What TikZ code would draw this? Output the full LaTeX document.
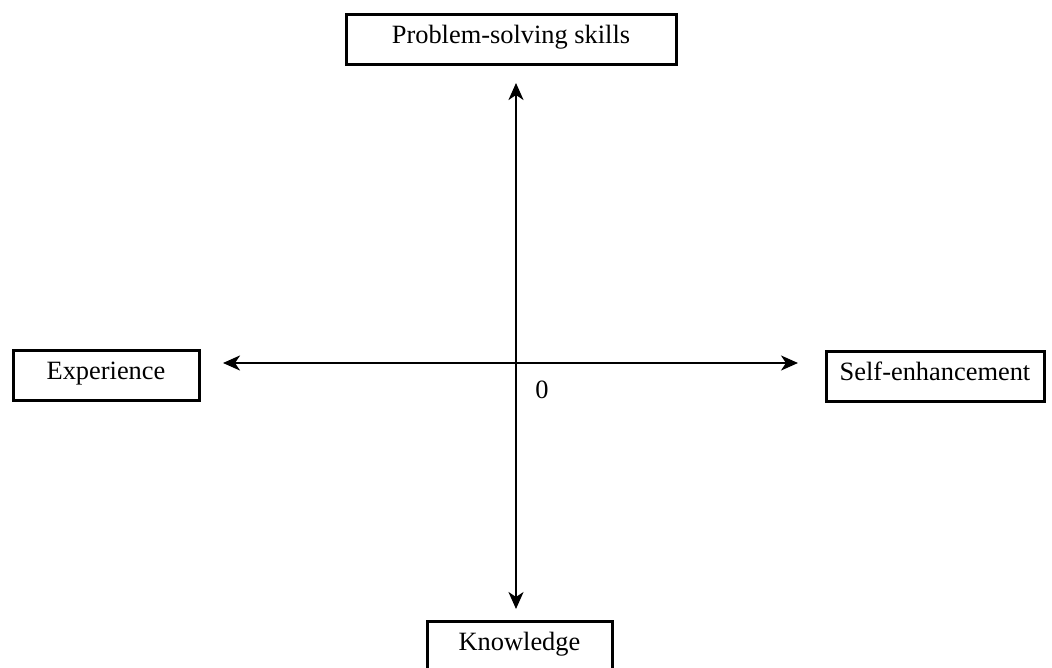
\documentclass[tikz,border=0pt]{standalone}
\usepackage{fontspec}
\setmainfont{Liberation Serif}
\usetikzlibrary{arrows.meta}
\begin{document}
\begin{tikzpicture}[x=1pt,y=-1pt,
  labelbox/.style={draw, line width=3pt, inner sep=0pt, minimum height=50pt,
    text height=22pt, text depth=14pt, font=\fontsize{26.4}{31}\selectfont},
  axisline/.style={line width=2.4pt, {Stealth[length=17pt,width=15pt,inset=5pt]}-{Stealth[length=17pt,width=15pt,inset=5pt]}},
  origintext/.style={inner sep=0pt, anchor=base, font=\fontsize{26.4}{31}\selectfont},
]
\clip (0,0) rectangle (1052,668);
\fill[white] (0,0) rectangle (1052,668);

% the four labelled boxes
\node[labelbox, minimum width=330pt] (skills) at (511,40) {Problem-solving skills};
\node[labelbox, minimum width=186pt] (experience) at (106,375.5) {Experience};
\node[labelbox, minimum width=218pt] (selfenh) at (935,376) {Self-enhancement};
\node[labelbox, minimum width=185pt] (knowledge) at (519.5,646) {Knowledge};

% axis ends and origin
\coordinate (origin) at (516,363);
\coordinate (upend) at (516,83);
\coordinate (downend) at (516,609);
\coordinate (leftend) at (223,363);
\coordinate (rightend) at (798,363);

\draw[axisline] (upend) -- (downend);
\draw[axisline] (leftend) -- (rightend);

\node[origintext] (zero) at (542,398) {0};
\end{tikzpicture}
\end{document}
